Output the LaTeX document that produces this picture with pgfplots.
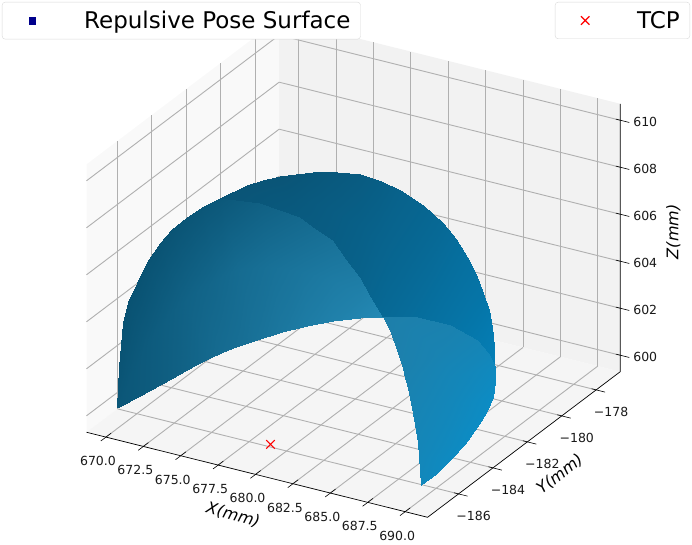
\documentclass[border=0pt]{standalone}
\usepackage{fontspec}
\setmainfont{DejaVu Sans}
\usepackage{pgfplots}
\pgfplotsset{compat=1.18}
\usetikzlibrary{calc}
\pgfplotsset{
  colormap={regionA}{rgb255=(8,80,112) rgb255=(40,145,190)},
  colormap={regionB}{rgb255=(10,82,115) rgb255=(4,128,184)},
  colormap={regionC}{rgb255=(31,126,168) rgb255=(12,140,196)},
  boxaxis/.style={
    x={(14.96pt,-3.73pt)}, y={(17.2pt,13pt)}, z={(0pt,23.5pt)},
    xmin=668.7, xmax=691.5,
    ymin=-187.8, ymax=-176.6,
    zmin=599.3, zmax=610.7,
    clip=false,
  },
  legendbox/.style={
    at={($(c)+(-86.5pt,-112.75pt)$)}, anchor=south west,
    width=692pt, height=545pt, scale only axis, hide axis,
    xmin=0, xmax=1, ymin=0, ymax=1,
    legend image code/.code={\path[mark repeat=2, mark phase=2, ##1, draw=none] plot coordinates {(0pt,0pt)(28pt,0pt)(72pt,0pt)};},
  },
}
\definecolor{gridgray}{RGB}{176,176,176}
\begin{document}
\begin{tikzpicture}
% panes go in their own axis, under the grid
\begin{axis}[boxaxis, hide axis]
  \fill[black!2.5] (axis cs:668.7,-187.8,599.3)--(axis cs:668.7,-176.6,599.3)--(axis cs:668.7,-176.6,610.7)--(axis cs:668.7,-187.8,610.7)--cycle;
  \fill[black!5] (axis cs:668.7,-176.6,599.3)--(axis cs:691.5,-176.6,599.3)--(axis cs:691.5,-176.6,610.7)--(axis cs:668.7,-176.6,610.7)--cycle;
  \fill[black!4] (axis cs:668.7,-187.8,599.3)--(axis cs:691.5,-187.8,599.3)--(axis cs:691.5,-176.6,599.3)--(axis cs:668.7,-176.6,599.3)--cycle;
\end{axis}
\begin{axis}[
  boxaxis,
  grid=major,
  grid style={gridgray, line width=0.9pt},
  axis line style={draw=none},
  major tick length=0pt,
  xtick={670,672.5,675,677.5,680,682.5,685,687.5,690},
  xticklabels={670.0,672.5,675.0,677.5,680.0,682.5,685.0,687.5,690.0},
  ytick={-186,-184,-182,-180,-178},
  yticklabels={−186,−184,−182,−180,−178},
  ztick={600,602,604,606,608,610},
  zticklabels={600,602,604,606,608,610},
  zticklabel pos=right,
  ticklabel style={font=\fontsize{12.5}{15}\selectfont, text=black!90},
  xticklabel style={anchor=center, xshift=-8pt, yshift=-24pt},
  yticklabel style={anchor=center, xshift=15pt, yshift=-22pt},
  zticklabel style={anchor=center, xshift=25pt, yshift=-2pt},
  xlabel={\textit{X(mm)}}, ylabel={\textit{Y(mm)}}, zlabel={\textit{Z(mm)}},
  label style={font=\fontsize{16}{19}\selectfont},
  x label style={at={(rel axis cs:0.5,0,0)}, anchor=center, xshift=-24pt, yshift=-40pt, rotate=-15},
  y label style={at={(rel axis cs:1,0.5,0)}, anchor=center, xshift=36pt, yshift=-30pt, rotate=38},
  z label style={at={(rel axis cs:1,1,0.5)}, anchor=center, xshift=6pt, yshift=-53pt, rotate=0},
  point meta min=0, point meta max=1,
]
\coordinate (c) at (axis cs:668.7,-187.8,599.3);
\draw[black, line width=0.7pt] (axis cs:668.7,-187.8,599.3)--(axis cs:691.5,-187.8,599.3)--(axis cs:691.5,-176.6,599.3)--(axis cs:691.5,-176.6,610.7);
\pgfplotsinvokeforeach{670,672.5,675,677.5,680,682.5,685,687.5,690}{
  \draw[black, line width=0.6pt] (axis cs:#1,-187.5,599.3)--(axis cs:#1,-188.1,599.3);}
\pgfplotsinvokeforeach{-186,-184,-182,-180,-178}{
  \draw[black, line width=0.6pt] (axis cs:691.2,#1,599.3)--(axis cs:692.1,#1,599.3);}
\pgfplotsinvokeforeach{600,602,604,606,608,610}{
  \draw[black, line width=0.6pt] (axis cs:691.2,-176.6,#1)--(axis cs:692.1,-176.6,#1);}
% inner face, left foot to the apex
\addplot3[surf, shader=interp, mesh/rows=3, point meta=explicit, colormap name=regionA] table[meta=c] {
x y z c
669.71 -186.91 600 .10
670.39 -186.16 600.2 .15
670.97 -185.50 600.4 .20
671.29 -185.05 600.5 .24
671.61 -184.60 600.6 .28
671.96 -184.18 600.7 .33
672.31 -183.76 600.8 .38
672.72 -183.45 600.9 .42
673.12 -183.13 601 .45
673.61 -182.86 601.1 .48
674.10 -182.59 601.2 .52
675.07 -181.97 601.35 .60
676.15 -181.47 601.5 .68
677.36 -181.00 601.65 .75
678.76 -180.65 601.8 .82
680.00 -180.39 601.9 .88
669.71 -186.91 600 .10
669.91 -186.36 600.85 .12
670.25 -185.95 601.85 .15
670.43 -185.59 602.28 .17
670.76 -185.26 602.7 .20
671.02 -184.83 603.1 .23
671.45 -184.47 603.5 .27
671.89 -184.16 603.8 .30
672.45 -183.89 604.1 .33
673.06 -183.63 604.35 .37
673.77 -183.37 604.6 .42
674.88 -182.44 604.33 .50
676.18 -181.70 603.95 .58
677.45 -181.08 603.43 .66
678.80 -180.69 602.7 .75
680.00 -180.39 601.9 .88
669.71 -186.91 600 .10
669.43 -186.55 601.5 .05
669.52 -186.39 603.3 .03
669.57 -186.12 604.05 .03
669.91 -185.92 604.8 .03
670.08 -185.48 605.5 .04
670.59 -185.17 606.2 .05
671.05 -184.87 606.7 .06
671.78 -184.64 607.2 .08
672.50 -184.39 607.6 .10
673.43 -184.15 608 .12
674.68 -182.91 607.3 .25
676.21 -181.92 606.4 .38
677.53 -181.15 605.2 .52
678.84 -180.72 603.6 .68
680.00 -180.39 601.9 .88
};
% dark outer face over the crown
\addplot3[surf, shader=interp, mesh/rows=3, point meta=explicit, colormap name=regionB] table[meta=c] {
x y z c
673.43 -184.15 608 .05
674.68 -182.91 607.3 .10
675.45 -182.42 606.85 .14
676.21 -181.92 606.4 .18
676.87 -181.54 605.8 .21
677.53 -181.15 605.2 .25
678.19 -180.94 604.4 .30
678.84 -180.72 603.6 .35
679.42 -180.56 602.75 .42
680.00 -180.39 601.9 .50
680.94 -180.22 601.95 .55
681.87 -180.04 602 .60
682.97 -180.04 602 .66
684.06 -180.03 602 .72
685.24 -180.27 602 .78
686.41 -180.50 602 .85
687.12 -180.80 602 .88
687.83 -181.10 602 .92
688.47 -181.46 602 .96
689.11 -181.81 602 1
673.43 -184.15 608 .05
674.77 -183.37 607.95 .08
675.55 -183.00 607.83 .10
676.30 -182.58 607.65 .12
677.03 -182.27 607.4 .16
677.74 -181.91 607.1 .20
678.61 -181.58 606.65 .25
679.40 -181.21 606.15 .30
680.14 -180.91 605.53 .36
680.82 -180.61 604.85 .42
681.74 -180.25 604.48 .48
682.68 -179.99 604.1 .55
683.62 -179.95 603.8 .62
684.49 -179.91 603.45 .68
685.41 -180.05 603.15 .74
686.33 -180.26 602.85 .80
687.00 -180.52 602.6 .85
687.69 -180.86 602.4 .90
688.43 -181.33 602.2 .95
689.11 -181.81 602 1
673.43 -184.15 608 .05
674.86 -183.83 608.6 .05
675.64 -183.58 608.8 .05
676.39 -183.24 608.9 .05
677.18 -183.00 609 .07
677.94 -182.67 609 .10
679.02 -182.21 608.9 .15
679.96 -181.70 608.7 .20
680.86 -181.25 608.3 .27
681.63 -180.82 607.8 .35
682.53 -180.27 607 .42
683.49 -179.94 606.2 .50
684.27 -179.86 605.6 .58
684.92 -179.79 604.9 .65
685.57 -179.83 604.3 .70
686.24 -180.01 603.7 .75
686.87 -180.23 603.2 .82
687.55 -180.62 602.8 .88
688.38 -181.20 602.4 .94
689.11 -181.81 602 1
};
% lower right face, apex to the right foot
\addplot3[surf, shader=interp, mesh/rows=3, point meta=explicit, colormap name=regionC] table[meta=c] {
x y z c
680.00 -180.39 601.9 .05
681.00 -180.80 601.6 .10
681.96 -181.28 601.3 .15
683.15 -181.97 601.1 .20
683.79 -182.38 601 .25
684.42 -182.78 600.9 .30
685.03 -183.20 600.8 .35
685.64 -183.61 600.7 .40
686.32 -184.08 600.6 .45
686.99 -184.55 600.5 .50
687.77 -185.14 600.38 .55
688.54 -185.73 600.25 .60
689.33 -186.36 600.13 .65
690.11 -186.98 600 .70
680.00 -180.39 601.9 .05
681.44 -180.42 601.8 .15
683.01 -180.66 601.65 .25
684.78 -181.24 601.55 .35
685.81 -181.74 601.5 .47
686.77 -182.30 601.45 .55
687.42 -182.80 601.3 .60
688.01 -183.32 601.15 .65
688.47 -183.86 600.95 .68
688.81 -184.37 600.75 .70
689.26 -185.07 600.57 .72
689.62 -185.76 600.38 .75
689.91 -186.40 600.19 .72
690.11 -186.98 600 .70
680.00 -180.39 601.9 .05
681.87 -180.04 602 .15
684.06 -180.03 602 .25
686.41 -180.50 602 .45
687.83 -181.10 602 .60
689.11 -181.81 602 .80
689.80 -182.40 601.8 .90
690.38 -183.03 601.6 1
690.62 -183.64 601.3 1
690.63 -184.18 601 1
690.75 -185.00 600.75 .95
690.69 -185.79 600.5 .90
690.49 -186.44 600.25 .80
690.11 -186.98 600 .70
};
\addplot3[only marks, mark=x, mark size=6pt, red, mark options={line width=1.2pt}] coordinates {(679.85,-186.8,600)};
\end{axis}
% legends
\begin{axis}[
  legendbox,
  legend style={at={(2/692,1-2/545)}, anchor=north west, draw=black!15, rounded corners=3pt,
    font=\fontsize{23}{27}\selectfont, inner xsep=2pt, inner ysep=7pt, nodes={inner xsep=8pt}},
]
\addlegendimage{color=blue!55!black, mark=square*, mark size=3.3pt, mark options={draw=blue!55!black, fill=blue!55!black}}
\addlegendentry{Repulsive Pose Surface}
\end{axis}
\begin{axis}[
  legendbox,
  legend style={at={(1-2/692,1-2/545)}, anchor=north east, draw=black!15, rounded corners=3pt,
    font=\fontsize{23}{27}\selectfont, inner xsep=2pt, inner ysep=7pt, nodes={inner xsep=8pt}},
]
\addlegendimage{color=red, mark=x, mark size=6pt, mark options={draw=red, line width=1.2pt}}
\addlegendentry{TCP}
\end{axis}
\pgfresetboundingbox
\path[use as bounding box] ($(c)+(-86.5pt,-112.75pt)$) rectangle +(692pt,545pt);
\end{tikzpicture}
\end{document}
